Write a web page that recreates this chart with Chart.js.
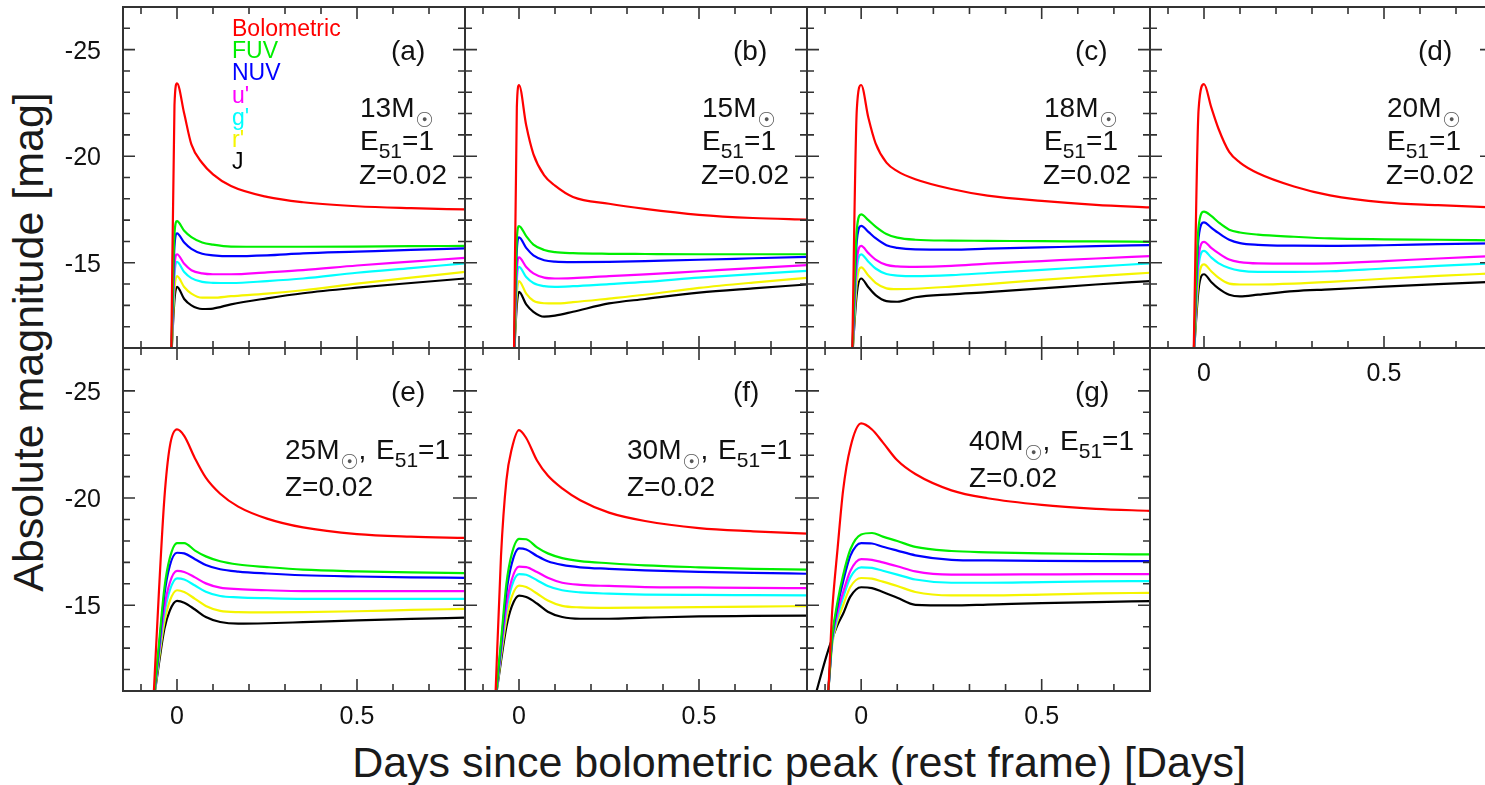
<!DOCTYPE html>
<html>
<head>
<meta charset="utf-8">
<script src="https://cdn.jsdelivr.net/npm/chart.js@4.4.1/dist/chart.umd.min.js"></script>
<style>
  html, body { margin: 0; padding: 0; background: #fff; width: 1485px; height: 785px; overflow: hidden; }
  canvas { position: absolute; }
  .title { position: absolute; font-family: "Liberation Sans", Arial, Helvetica, sans-serif; font-size: 43px; line-height: 43px; color: #1a1a1a; white-space: nowrap; }
</style>
</head>
<body>
<div class="title" style="left:299px; top:741px; width:1000px; text-align:center;">Days since bolometric peak (rest frame) [Days]</div>
<div class="title" style="left:0; top:0; width:600px; text-align:center; transform-origin:0 0; transform:translate(7px,642px) rotate(-90deg);">Absolute magnitude [mag]</div>
<script>
const bandNames = ['Bolometric', 'FUV', 'NUV', "u'", "g'", "r'", 'J'];
const bandColors = ['#ff0000', '#00ee00', '#0000ff', '#ff00ff', '#00ffff', '#f5f500', '#000000'];
const yTickLabels = [-25, -20, -15];
const xTickLabels = [0, 0.5];
const panelTags = ['(a)', '(b)', '(c)', '(d)', '(e)', '(f)', '(g)'];
const panelMasses = ['13', '15', '18', '20', '25', '30', '40'];

// (a) 13 Msun
const daysA = [-0.016, -0.007, 0, 0.02, 0.04, 0.07, 0.1, 0.15, 0.25, 0.35, 0.5, 0.65, 0.8];
const bolA = [-10.5, -22.4, -23.42, -22.0, -20.55, -19.68, -19.15, -18.6, -18.09, -17.84, -17.65, -17.56, -17.5];
const fuvA = [-10.5, -16.35, -16.95, -16.5, -16.2, -15.95, -15.85, -15.76, -15.75, -15.75, -15.76, -15.78, -15.79];
const nuvA = [-10.5, -15.78, -16.38, -15.95, -15.65, -15.42, -15.35, -15.31, -15.35, -15.44, -15.52, -15.6, -15.67];
const uA = [-10.5, -14.8, -15.4, -14.95, -14.65, -14.5, -14.46, -14.46, -14.55, -14.65, -14.87, -15.05, -15.23];
const gA = [-10.5, -14.44, -15.04, -14.57, -14.28, -14.1, -14.06, -14.05, -14.14, -14.26, -14.53, -14.75, -14.97];
const rA = [-10.5, -13.77, -14.37, -13.86, -13.55, -13.36, -13.36, -13.43, -13.55, -13.71, -14.02, -14.3, -14.57];
const jA = [-10.5, -13.27, -13.87, -13.3, -13.0, -12.83, -12.85, -13.05, -13.33, -13.57, -13.83, -14.05, -14.26];

// (b) 15 Msun
const daysB = [-0.014, -0.006, 0, 0.02, 0.04, 0.07, 0.1, 0.15, 0.25, 0.35, 0.5, 0.65, 0.8];
const bolB = [-10.5, -22.3, -23.34, -21.45, -20.1, -19.1, -18.62, -18.09, -17.77, -17.53, -17.25, -17.1, -17.03];
const fuvB = [-10.5, -16.12, -16.72, -16.25, -15.85, -15.6, -15.5, -15.45, -15.42, -15.41, -15.4, -15.4, -15.4];
const nuvB = [-10.5, -15.59, -16.19, -15.7, -15.35, -15.12, -15.05, -15.03, -15.04, -15.08, -15.14, -15.21, -15.28];
const uB = [-10.5, -14.65, -15.25, -14.8, -14.5, -14.3, -14.26, -14.28, -14.37, -14.45, -14.6, -14.75, -14.89];
const gB = [-10.5, -14.21, -14.81, -14.33, -14.05, -13.9, -13.87, -13.9, -14.0, -14.1, -14.3, -14.47, -14.62];
const rB = [-10.5, -13.54, -14.14, -13.55, -13.22, -13.1, -13.09, -13.15, -13.32, -13.5, -13.82, -14.07, -14.29];
const jB = [-10.5, -13.03, -13.63, -13.05, -12.7, -12.47, -12.52, -12.7, -13.09, -13.3, -13.6, -13.8, -13.98];

// (c) 18 Msun
const daysC = [-0.025, -0.012, 0, 0.02, 0.04, 0.07, 0.1, 0.15, 0.25, 0.35, 0.5, 0.65, 0.8];
const bolC = [-10.5, -22.2, -23.34, -21.8, -20.6, -19.7, -19.3, -18.92, -18.46, -18.15, -17.9, -17.72, -17.6];
const fuvC = [-10.5, -16.57, -17.27, -17.0, -16.7, -16.35, -16.18, -16.08, -16.04, -16.03, -16.01, -16.0, -15.98];
const nuvC = [-10.5, -16.03, -16.73, -16.45, -16.15, -15.82, -15.7, -15.63, -15.62, -15.66, -15.72, -15.78, -15.83];
const uC = [-10.5, -15.09, -15.79, -15.45, -15.15, -14.9, -14.83, -14.81, -14.85, -14.96, -15.08, -15.2, -15.31];
const gC = [-10.5, -14.69, -15.39, -15.05, -14.73, -14.47, -14.4, -14.37, -14.42, -14.52, -14.67, -14.82, -14.97];
const rC = [-10.5, -14.08, -14.78, -14.4, -14.06, -13.8, -13.76, -13.78, -13.88, -14.0, -14.2, -14.37, -14.53];
const jC = [-10.5, -13.56, -14.26, -13.85, -13.48, -13.2, -13.17, -13.38, -13.52, -13.62, -13.8, -13.98, -14.14];

// (d) 20 Msun
const daysD = [-0.029, -0.015, 0, 0.02, 0.04, 0.07, 0.1, 0.15, 0.25, 0.35, 0.5, 0.65, 0.8];
const bolD = [-10.5, -22.2, -23.38, -22.3, -21.3, -20.2, -19.7, -19.2, -18.58, -18.16, -17.83, -17.7, -17.6];
const fuvD = [-10.5, -16.7, -17.4, -17.2, -16.9, -16.55, -16.42, -16.32, -16.22, -16.14, -16.1, -16.08, -16.05];
const nuvD = [-10.5, -16.19, -16.89, -16.65, -16.4, -16.08, -15.92, -15.84, -15.8, -15.79, -15.82, -15.87, -15.91];
const uD = [-10.5, -15.28, -15.98, -15.7, -15.45, -15.15, -15.03, -14.97, -14.96, -14.97, -15.08, -15.2, -15.31];
const gD = [-10.5, -14.86, -15.56, -15.25, -14.98, -14.75, -14.63, -14.57, -14.57, -14.6, -14.73, -14.85, -14.97];
const rD = [-10.5, -14.22, -14.92, -14.6, -14.3, -14.02, -13.98, -13.98, -14.02, -14.1, -14.25, -14.38, -14.5];
const jD = [-10.5, -13.76, -14.46, -14.1, -13.8, -13.5, -13.42, -13.5, -13.67, -13.75, -13.88, -14.0, -14.1];

// (e) 25 Msun
const daysE = [-0.066, -0.05, -0.035, -0.02, 0, 0.02, 0.05, 0.08, 0.12, 0.17, 0.25, 0.35, 0.5, 0.65, 0.8];
const bolE = [-10.4, -15.7, -20.0, -22.4, -23.2, -22.9, -21.85, -20.95, -20.2, -19.6, -19.04, -18.63, -18.32, -18.2, -18.14];
const fuvE = [-10.4, -13.2, -15.8, -17.2, -17.9, -17.9, -17.55, -17.28, -17.05, -16.9, -16.78, -16.66, -16.58, -16.53, -16.5];
const nuvE = [-10.4, -13.0, -15.5, -16.85, -17.45, -17.42, -17.15, -16.88, -16.68, -16.57, -16.48, -16.4, -16.34, -16.3, -16.28];
const uE = [-10.4, -12.8, -14.9, -16.05, -16.6, -16.55, -16.3, -16.02, -15.82, -15.75, -15.7, -15.66, -15.66, -15.66, -15.66];
const gE = [-10.4, -12.7, -14.6, -15.7, -16.25, -16.2, -15.92, -15.63, -15.43, -15.37, -15.33, -15.3, -15.3, -15.3, -15.3];
const rE = [-10.4, -12.5, -14.2, -15.2, -15.7, -15.62, -15.3, -14.97, -14.74, -14.68, -14.67, -14.68, -14.72, -14.78, -14.83];
const jE = [-10.4, -12.3, -13.9, -14.75, -15.2, -15.12, -14.8, -14.45, -14.22, -14.14, -14.16, -14.21, -14.29, -14.36, -14.42];

// (f) 30 Msun
const daysF = [-0.066, -0.05, -0.035, -0.02, 0, 0.02, 0.05, 0.08, 0.12, 0.17, 0.25, 0.35, 0.5, 0.65, 0.8];
const bolF = [-10.5, -17.3, -20.83, -22.3, -23.17, -22.8, -21.75, -21.05, -20.45, -19.9, -19.32, -18.93, -18.6, -18.45, -18.34];
const fuvF = [-10.5, -13.3, -16.0, -17.4, -18.1, -18.08, -17.7, -17.42, -17.2, -17.06, -16.96, -16.86, -16.77, -16.7, -16.66];
const nuvF = [-10.5, -13.1, -15.6, -16.95, -17.65, -17.6, -17.3, -17.05, -16.88, -16.77, -16.7, -16.63, -16.56, -16.51, -16.47];
const uF = [-10.5, -12.9, -15.0, -16.2, -16.8, -16.78, -16.55, -16.28, -16.05, -15.95, -15.9, -15.85, -15.83, -15.81, -15.8];
const gF = [-10.5, -12.8, -14.75, -15.9, -16.45, -16.42, -16.17, -15.9, -15.7, -15.6, -15.54, -15.5, -15.48, -15.47, -15.46];
const rF = [-10.5, -12.6, -14.35, -15.4, -15.92, -15.85, -15.55, -15.22, -14.97, -14.9, -14.88, -14.89, -14.91, -14.94, -14.96];
const jF = [-10.5, -12.4, -14.0, -14.95, -15.45, -15.38, -15.08, -14.7, -14.45, -14.37, -14.37, -14.42, -14.48, -14.5, -14.52];

// (g) 40 Msun
const daysG = [-0.13, -0.095, -0.08, -0.065, -0.05, -0.03, 0, 0.03, 0.06, 0.1, 0.15, 0.25, 0.35, 0.5, 0.65, 0.8];
const bolG = [-10, -10.3, -14.8, -17.7, -20.36, -22.35, -23.48, -23.2, -22.6, -21.76, -21.12, -20.36, -19.99, -19.68, -19.5, -19.4];
const fuvG = [-10, -10.5, -13.6, -15.2, -16.4, -17.6, -18.3, -18.37, -18.2, -18.0, -17.72, -17.53, -17.47, -17.42, -17.39, -17.37];
const nuvG = [-10, -10.5, -13.5, -15.0, -16.1, -17.3, -17.9, -17.88, -17.73, -17.55, -17.33, -17.12, -17.09, -17.07, -17.06, -17.06];
const uG = [-10, -10.5, -13.4, -14.7, -15.6, -16.6, -17.15, -17.12, -17.0, -16.82, -16.58, -16.43, -16.43, -16.44, -16.45, -16.45];
const gG = [-10, -10.5, -13.3, -14.5, -15.35, -16.3, -16.77, -16.74, -16.61, -16.43, -16.2, -16.05, -16.05, -16.08, -16.11, -16.13];
const rG = [-10, -10.5, -13.2, -14.3, -15.0, -15.85, -16.27, -16.24, -16.1, -15.9, -15.62, -15.46, -15.46, -15.5, -15.55, -15.58];
const jG = [-10.6, -12.7, -13.45, -14.1, -14.6, -15.4, -15.84, -15.8, -15.62, -15.35, -15.02, -14.99, -15.03, -15.1, -15.15, -15.19];

const FONT = '"Liberation Sans", Arial, Helvetica, sans-serif';

// where each panel goes on the page
const panels = [
  { days: daysA, series: [bolA, fuvA, nuvA, uA, gA, rA, jA], left: 123, top: 7, w: 342, h: 341, stack: true, yLab: true, legend: true },
  { days: daysB, series: [bolB, fuvB, nuvB, uB, gB, rB, jB], left: 465, top: 7, w: 342, h: 341, stack: true },
  { days: daysC, series: [bolC, fuvC, nuvC, uC, gC, rC, jC], left: 807, top: 7, w: 343, h: 341, stack: true },
  { days: daysD, series: [bolD, fuvD, nuvD, uD, gD, rD, jD], left: 1150, top: 7, w: 342, h: 341, stack: true, xLab: true },
  { days: daysE, series: [bolE, fuvE, nuvE, uE, gE, rE, jE], left: 123, top: 348, w: 342, h: 343, yLab: true, xLab: true },
  { days: daysF, series: [bolF, fuvF, nuvF, uF, gF, rF, jF], left: 465, top: 348, w: 342, h: 343, xLab: true },
  { days: daysG, series: [bolG, fuvG, nuvG, uG, gG, rG, jG], left: 807, top: 348, w: 343, h: 343, xLab: true, lift: 9 }
];

const PAD = { left: 80, right: 10, top: 7, bottom: 45 };

function drawMass(ctx, x, base, mass) {
  ctx.font = '28px ' + FONT;
  ctx.textAlign = 'left';
  ctx.textBaseline = 'alphabetic';
  const s = mass + 'M';
  ctx.fillText(s, x, base);
  const w = ctx.measureText(s).width;
  ctx.save();
  ctx.font = '21px "DejaVu Sans"';
  ctx.textAlign = 'center';
  ctx.textBaseline = 'middle';
  ctx.fillStyle = '#555';
  ctx.fillText('\u2609', x + w + 10, base + 5);
  ctx.restore();
  return x + w + 19;
}

function drawE(ctx, x, base) {
  ctx.font = '28px ' + FONT;
  ctx.fillText('E', x, base);
  x += ctx.measureText('E').width;
  ctx.font = '21px ' + FONT;
  ctx.fillText('51', x, base + 8);
  x += ctx.measureText('51').width;
  ctx.font = '28px ' + FONT;
  ctx.fillText('=1', x, base);
}

function makeDecor(p, idx) {
  return {
    id: 'decor',
    afterDraw(chart) {
      const ctx = chart.ctx;
      const a = chart.chartArea;
      const xs = chart.scales.x, ys = chart.scales.y;
      ctx.save();
      ctx.strokeStyle = '#333';
      ctx.lineWidth = 2;
      ctx.strokeRect(a.left, a.top, a.right - a.left, a.bottom - a.top);

      // inward ticks on all four sides
      ctx.lineWidth = 1.6;
      ctx.beginPath();
      for (let k = -1; k <= 7; k++) {
        const px = xs.getPixelForValue(k / 10);
        const len = (k === 0 || k === 5) ? 12 : 7;
        ctx.moveTo(px, a.bottom); ctx.lineTo(px, a.bottom - len);
        ctx.moveTo(px, a.top); ctx.lineTo(px, a.top + len);
      }
      for (let v = -26; v <= -12; v++) {
        const py = ys.getPixelForValue(v);
        const len = (v % 5 === 0) ? 12 : 7;
        ctx.moveTo(a.left, py); ctx.lineTo(a.left + len, py);
        ctx.moveTo(a.right, py); ctx.lineTo(a.right - len, py);
      }
      ctx.stroke();

      ctx.fillStyle = '#111';
      ctx.font = '25px ' + FONT;
      if (p.yLab) {
        ctx.textAlign = 'right';
        ctx.textBaseline = 'alphabetic';
        yTickLabels.forEach(v => ctx.fillText(String(v), a.left - 22, ys.getPixelForValue(v) + 9));
      }
      if (p.xLab) {
        ctx.textAlign = 'center';
        ctx.textBaseline = 'alphabetic';
        xTickLabels.forEach(v => ctx.fillText(String(v), xs.getPixelForValue(v), a.bottom + 33));
      }

      // panel tag and model parameters
      ctx.textAlign = 'left';
      ctx.textBaseline = 'alphabetic';
      ctx.font = '28px ' + FONT;
      ctx.fillText(panelTags[idx], a.left + 268, a.top + 53);
      if (p.stack) {
        const x0 = a.left + 237;
        drawMass(ctx, x0, a.top + 110, panelMasses[idx]);
        drawE(ctx, x0, a.top + 143);
        ctx.font = '28px ' + FONT;
        ctx.fillText('Z=0.02', x0 - 1, a.top + 177);
      } else {
        const x0 = a.left + 162;
        const lift = p.lift || 0;
        let x = drawMass(ctx, x0, a.top + 111 - lift, panelMasses[idx]);
        ctx.font = '28px ' + FONT;
        ctx.fillText(', ', x, a.top + 111 - lift);
        x += ctx.measureText(', ').width + 2;
        drawE(ctx, x, a.top + 111 - lift);
        ctx.font = '28px ' + FONT;
        ctx.fillText('Z=0.02', x0, a.top + 148 - lift);
      }

      if (p.legend) {
        ctx.font = '23px ' + FONT;
        bandNames.forEach((n, i) => {
          ctx.fillStyle = bandColors[i];
          ctx.fillText(n, a.left + 109, a.top + 29 + 22.2 * i);
        });
      }
      ctx.restore();
    }
  };
}

panels.forEach((p, idx) => {
  const cv = document.createElement('canvas');
  cv.width = p.w + PAD.left + PAD.right;
  cv.height = p.h + PAD.top + PAD.bottom;
  cv.style.left = (p.left - PAD.left) + 'px';
  cv.style.top = (p.top - PAD.top) + 'px';
  document.body.appendChild(cv);

  new Chart(cv, {
    type: 'line',
    data: {
      datasets: p.series.map((vals, i) => ({
        label: bandNames[i],
        data: p.days.map((t, j) => ({ x: t, y: vals[j] })),
        borderColor: bandColors[i],
        borderWidth: 2.2,
        pointRadius: 0,
        fill: false,
        cubicInterpolationMode: 'monotone'
      }))
    },
    options: {
      responsive: false,
      animation: false,
      events: [],
      layout: { padding: PAD },
      plugins: { legend: { display: false }, tooltip: { enabled: false }, title: { display: false } },
      scales: {
        x: { type: 'linear', min: -0.15, max: 0.8, display: false },
        y: { type: 'linear', min: -27, max: -11, reverse: true, display: false }
      }
    },
    plugins: [makeDecor(p, idx)]
  });
});
</script>
</body>
</html>
